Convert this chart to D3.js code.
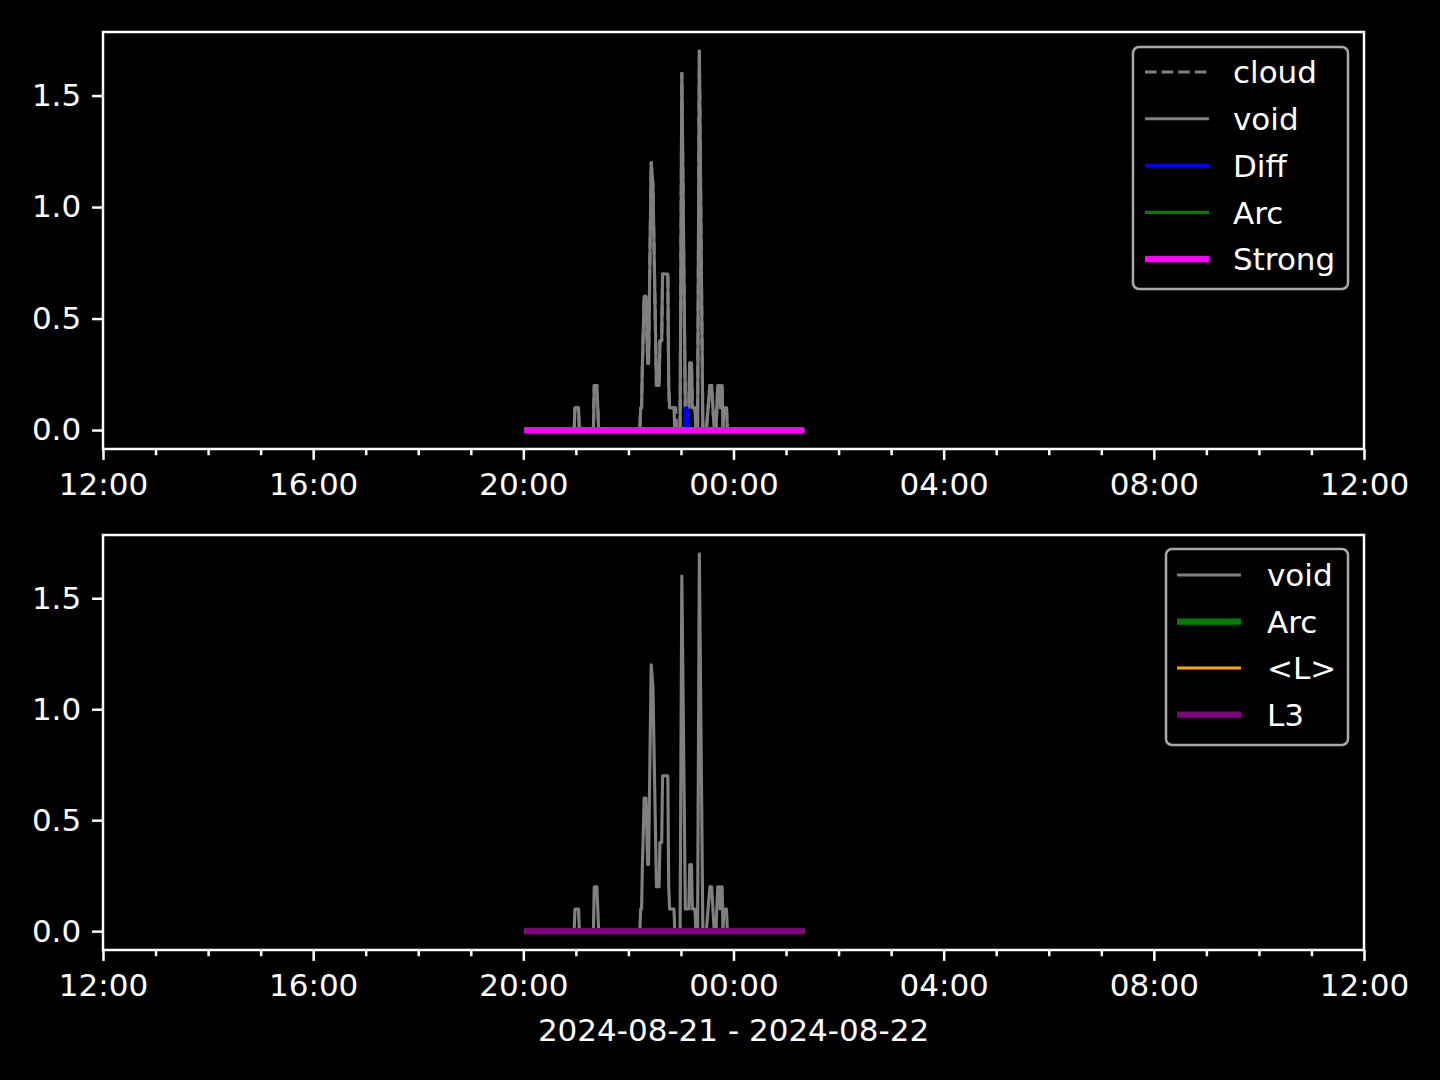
<!DOCTYPE html>
<html>
<head>
<meta charset="utf-8">
<script src="https://cdn.jsdelivr.net/npm/d3@7"></script>
<style>
  html, body { margin: 0; padding: 0; background: #000; }
  svg { display: block; }
  text { font-family: "DejaVu Sans", sans-serif; fill: #fff; }
</style>
</head>
<body>
<svg id="chart" width="1440" height="1080"></svg>
<script>
// ---------------- DATA ----------------
const xDomainStart = "2024-08-21 12:00";
const xDomainEnd   = "2024-08-22 12:00";
const xTickLabels = ["12:00", "16:00", "20:00", "00:00", "04:00", "08:00", "12:00"];
const yTickLabels = ["0.0", "0.5", "1.0", "1.5"];
const yTickValues = [0, 0.5, 1.0, 1.5];
const xAxisLabel = "2024-08-21 - 2024-08-22";

// "void" series (clock times, evening of 08-21 into morning of 08-22)
const voidTimes = ["20:01","20:58","20:59","21:03","21:04","21:20","21:21","21:24","21:26",
  "22:13","22:14","22:15","22:16","22:18","22:20","22:22","22:23","22:26","22:28","22:32",
  "22:35","22:36","22:38","22:39","22:45","22:46","22:47","22:52","22:53","22:59","23:01",
  "23:05","23:09","23:10","23:12","23:13","23:16","23:17","23:19","23:21","23:25","23:29",
  "23:33","23:35","23:38","23:40","23:42","23:44","23:45","23:46","23:47","23:48","23:49",
  "23:52","23:53","01:21"];
const voidValues = [0,0,0.1,0.1,0,0,0.2,0.2,0,
  0,0.1,0.1,0.3,0.6,0.6,0.3,0.3,1.2,1.1,0.2,
  0.2,0.4,0.4,0.7,0.7,0.2,0.1,0.1,0,0,1.6,
  0.1,0.1,0.3,0.3,0.1,0.1,0,0,1.7,0,0,
  0.2,0.2,0,0,0.2,0.2,0.1,0.2,0.2,0,0.1,
  0.1,0,0];

// "cloud" series
const cloudTimes = ["20:01","20:58","20:59","21:03","21:04","21:20","21:21","21:24","21:26",
  "22:13","22:14","22:15","22:16","22:18","22:20","22:22","22:23","22:26","22:28","22:32",
  "22:35","22:36","22:38","22:39","22:45","22:46","22:47","22:54","22:55","22:59","23:01",
  "23:05","23:09","23:10","23:12","23:13","23:16","23:17","23:19","23:21","23:25","23:29",
  "23:33","23:35","23:38","23:40","23:42","23:44","23:45","23:46","23:47","23:48","23:49",
  "23:52","23:53","01:21"];
const cloudValues = [0,0,0.1,0.1,0,0,0.2,0.2,0,
  0,0.1,0.1,0.3,0.6,0.6,0.3,0.3,1.2,1.1,0.2,
  0.2,0.4,0.4,0.7,0.7,0.2,0.1,0.1,0,0,1.6,
  0.1,0.1,0.3,0.3,0.1,0.1,0,0,1.7,0,0,
  0.2,0.2,0,0,0.2,0.2,0.1,0.2,0.2,0,0.1,
  0.1,0,0];

// "Diff" series
const diffTimes  = ["20:01","23:04","23:05","23:07","23:08","01:21"];
const diffValues = [0, 0, 0.1, 0.1, 0, 0];

// flat series
const arcTimes     = ["20:01","01:21"];
const arcValues    = [0, 0];
const strongTimes  = ["20:01","01:21"];
const strongValues = [0, 0];
const meanLTimes   = ["20:01","01:21"];
const meanLValues  = [0, 0];
const l3Times      = ["20:01","01:21"];
const l3Values     = [0, 0];

// ---------------- HELPERS ----------------
const parseFull = d3.utcParse("%Y-%m-%d %H:%M");
function clock(t) {
  const h = +t.split(":")[0];
  return parseFull((h < 12 ? "2024-08-22 " : "2024-08-21 ") + t);
}
function series(times, values) {
  return times.map((t, i) => ({ t: clock(t), v: values[i] }));
}

const svg = d3.select("#chart");
svg.append("rect").attr("width", 1440).attr("height", 1080).attr("fill", "#000");

const FS = 31;
const LW = 3.125;
const X0 = 103, X1 = 1364;
const x = d3.scaleUtc().domain([parseFull(xDomainStart), parseFull(xDomainEnd)]).range([X0, X1]);

function panel(top, bottom, lines, legend) {
  const y = d3.scaleLinear().domain([-0.085, 1.785]).range([bottom, top]);
  const g = svg.append("g");

  const clipId = "clip" + top;
  svg.append("clipPath").attr("id", clipId).append("rect")
    .attr("x", X0).attr("y", top).attr("width", X1 - X0).attr("height", bottom - top);

  const line = d3.line().x(d => x(d.t)).y(d => y(d.v));
  const lg = g.append("g").attr("clip-path", `url(#${clipId})`);
  lines.forEach(l => {
    lg.append("path").datum(series(l.times, l.values))
      .attr("d", line).attr("fill", "none")
      .attr("stroke", l.color).attr("stroke-width", l.w)
      .attr("stroke-dasharray", l.dash || null)
      .attr("stroke-linejoin", "round").attr("stroke-linecap", "butt");
  });

  // frame
  g.append("rect").attr("x", X0).attr("y", top).attr("width", X1 - X0).attr("height", bottom - top)
    .attr("fill", "none").attr("stroke", "#fff").attr("stroke-width", 2.5);

  // x axis
  const majors = d3.utcHour.every(4).range(parseFull(xDomainStart), d3.utcMinute.offset(parseFull(xDomainEnd), 1));
  const minors = d3.utcHour.every(1).range(parseFull(xDomainStart), d3.utcMinute.offset(parseFull(xDomainEnd), 1));
  const xa = d3.axisBottom(x).tickValues(majors).tickSize(10.9).tickPadding(10.9)
    .tickFormat((d, i) => xTickLabels[i]);
  const xg = g.append("g").attr("transform", `translate(0,${bottom})`).call(xa);
  const xm = g.append("g").attr("transform", `translate(0,${bottom})`)
    .call(d3.axisBottom(x).tickValues(minors.filter((d, i) => i % 4 !== 0)).tickSize(6.25).tickFormat(""));
  [xg, xm].forEach(a => {
    a.select(".domain").remove();
    a.selectAll("line").attr("stroke", "#fff").attr("stroke-width", 2.5);
  });
  xg.selectAll("text").attr("fill", "#fff").attr("font-size", FS)
    .attr("font-family", "DejaVu Sans").attr("dy", "0.71em").attr("y", 10.9 + 13);

  // y axis
  const ya = d3.axisLeft(y).tickValues(yTickValues).tickSize(10.9).tickPadding(10.9)
    .tickFormat((d, i) => yTickLabels[i]);
  const yg = g.append("g").attr("transform", `translate(${X0},0)`).call(ya);
  yg.select(".domain").remove();
  yg.selectAll("line").attr("stroke", "#fff").attr("stroke-width", 2.5);
  yg.selectAll("text").attr("fill", "#fff").attr("font-size", FS).attr("font-family", "DejaVu Sans");

  // legend
  const L = legend;
  const lgd = g.append("g");
  lgd.append("rect").attr("x", L.x).attr("y", L.y).attr("width", L.w).attr("height", L.h)
    .attr("rx", 6).attr("ry", 6).attr("fill", "#000").attr("fill-opacity", 0.8)
    .attr("stroke", "#aaaaaa").attr("stroke-width", 2.5);
  L.items.forEach((it, i) => {
    const cy = L.firstY + i * L.step;
    lgd.append("line").attr("x1", L.hx).attr("x2", L.hx + 64).attr("y1", cy).attr("y2", cy)
      .attr("stroke", it.color).attr("stroke-width", it.w)
      .attr("stroke-dasharray", it.dash || null);
    lgd.append("text").attr("x", L.tx).attr("y", cy).attr("dy", "0.36em")
      .attr("font-size", FS).text(it.label);
  });
}

const GRAY = "#808080";
panel(32, 449, [
  { times: cloudTimes, values: cloudValues, color: GRAY, w: LW, dash: "11.6,5" },
  { times: voidTimes, values: voidValues, color: GRAY, w: LW },
  { times: diffTimes, values: diffValues, color: "#0000ff", w: LW },
  { times: arcTimes, values: arcValues, color: "#008000", w: LW },
  { times: strongTimes, values: strongValues, color: "#ff00ff", w: 2 * LW }
], {
  x: 1133, y: 47, w: 215, h: 242, hx: 1145, tx: 1233, firstY: 72, step: 46.8,
  items: [
    { label: "cloud", color: GRAY, w: LW, dash: "11.6,5" },
    { label: "void", color: GRAY, w: LW },
    { label: "Diff", color: "#0000ff", w: LW },
    { label: "Arc", color: "#008000", w: LW },
    { label: "Strong", color: "#ff00ff", w: 2 * LW }
  ]
});

panel(535, 950, [
  { times: voidTimes, values: voidValues, color: GRAY, w: LW },
  { times: arcTimes, values: arcValues, color: "#008000", w: 2 * LW },
  { times: meanLTimes, values: meanLValues, color: "#ffa500", w: LW },
  { times: l3Times, values: l3Values, color: "#800080", w: 2 * LW }
], {
  x: 1166, y: 549, w: 182, h: 196, hx: 1177, tx: 1267, firstY: 575, step: 46.5,
  items: [
    { label: "void", color: GRAY, w: LW },
    { label: "Arc", color: "#008000", w: 2 * LW },
    { label: "<L>", color: "#ffa500", w: LW },
    { label: "L3", color: "#800080", w: 2 * LW }
  ]
});

svg.append("text").attr("x", (X0 + X1) / 2).attr("y", 1030).attr("dy", "0.36em")
  .attr("text-anchor", "middle").attr("font-size", FS).text(xAxisLabel);
</script>
</body>
</html>
